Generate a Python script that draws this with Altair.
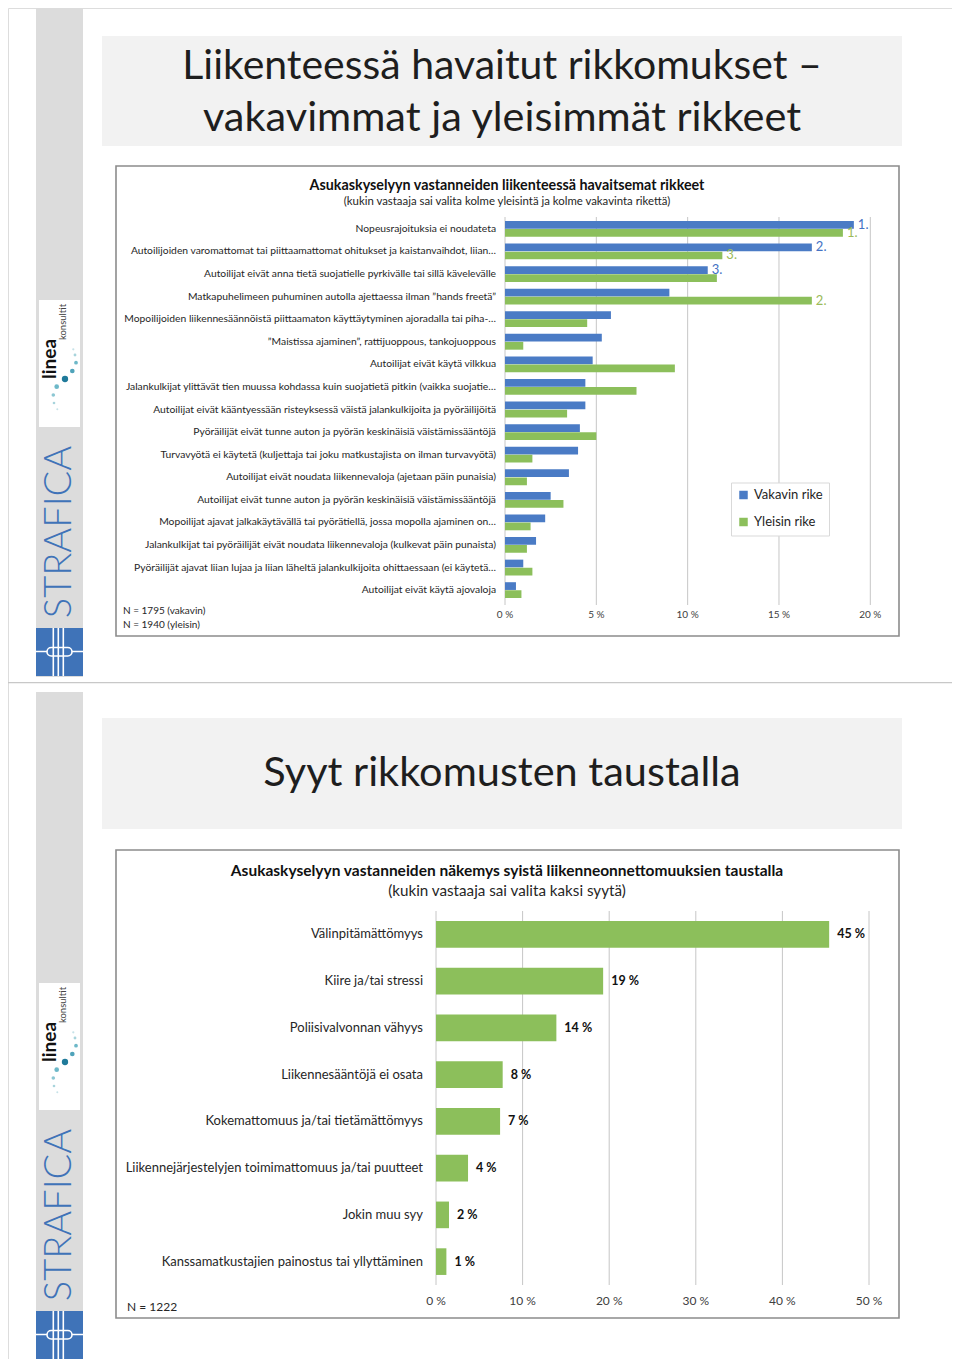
import altair as alt
import pandas as pd

# ------------------------------------------------------------------ data
rikkeet = [
    "Nopeusrajoituksia ei noudateta",
    "Autoilijoiden varomattomat tai piittaamattomat ohitukset ja kaistanvaihdot, liian…",
    "Autoilijat eivät anna tietä suojatielle pyrkivälle tai sillä kävelevälle",
    "Matkapuhelimeen puhuminen autolla ajettaessa ilman ”hands freetä”",
    "Mopoilijoiden liikennesäännöistä piittaamaton käyttäytyminen ajoradalla tai piha-…",
    "”Maistissa ajaminen”, rattijuoppous, tankojuoppous",
    "Autoilijat eivät käytä vilkkua",
    "Jalankulkijat ylittävät tien muussa kohdassa kuin suojatietä pitkin (vaikka suojatie…",
    "Autoilijat eivät kääntyessään risteyksessä väistä jalankulkijoita ja pyöräilijöitä",
    "Pyöräilijät eivät tunne auton ja pyörän keskinäisiä väistämissääntöjä",
    "Turvavyötä ei käytetä (kuljettaja tai joku matkustajista on ilman turvavyötä)",
    "Autoilijat eivät noudata liikennevaloja (ajetaan päin punaisia)",
    "Autoilijat eivät tunne auton ja pyörän keskinäisiä väistämissääntöjä",
    "Mopoilijat ajavat jalkakäytävällä tai pyörätiellä, jossa mopolla ajaminen on…",
    "Jalankulkijat tai pyöräilijät eivät noudata liikennevaloja (kulkevat päin punaista)",
    "Pyöräilijät ajavat liian lujaa ja liian läheltä jalankulkijoita ohittaessaan (ei käytetä…",
    "Autoilijat eivät käytä ajovaloja",
]
vakavin = [19.1, 16.8, 11.1, 9.0, 5.8, 5.3, 4.8, 4.4, 4.4, 4.1, 4.0, 3.5, 2.5, 2.2, 1.7, 1.0, 0.6]
yleisin = [18.5, 11.9, 11.6, 16.8, 4.5, 1.0, 9.3, 7.2, 3.4, 5.0, 1.5, 1.2, 3.2, 1.4, 1.2, 1.5, 0.9]
vakavin_sija = ["1.", "2.", "3.", "", "", "", "", "", "", "", "", "", "", "", "", "", ""]
yleisin_sija = ["1.", "3.", "", "2.", "", "", "", "", "", "", "", "", "", "", "", "", ""]
sarjat = ["Vakavin rike", "Yleisin rike"]
ticks_top = [0, 5, 10, 15, 20]
tick_labels_top = ["0 %", "5 %", "10 %", "15 %", "20 %"]

syyt = [
    "Välinpitämättömyys",
    "Kiire ja/tai stressi",
    "Poliisivalvonnan vähyys",
    "Liikennesääntöjä ei osata",
    "Kokemattomuus ja/tai tietämättömyys",
    "Liikennejärjestelyjen toimimattomuus ja/tai puutteet",
    "Jokin muu syy",
    "Kanssamatkustajien painostus tai yllyttäminen",
]
syyt_osuus = [45.4, 19.3, 13.9, 7.7, 7.4, 3.7, 1.5, 1.2]
syyt_labels = ["45 %", "19 %", "14 %", "8 %", "7 %", "4 %", "2 %", "1 %"]
ticks_bottom = [0, 10, 20, 30, 40, 50]
tick_labels_bottom = ["0 %", "10 %", "20 %", "30 %", "40 %", "50 %"]

# ------------------------------------------------------------------ style
FONT = "Lato"
BLUE = "#4A7BC5"
GREEN = "#8CBF5B"
BLUE_T = "#4472C4"
GREEN_T = "#9BBB59"
SIDE = "#DCDCDC"
STRA = "#3F73B8"
GRID = "#C6C6C6"
TXT = "#262626"

one = alt.Chart(pd.DataFrame({"k": [0]}))


def rect(x1, y1, x2, y2, **kw):
    return one.mark_rect(**kw).encode(
        x=alt.value(x1), x2=alt.value(x2), y=alt.value(y1), y2=alt.value(y2))


def text(t, x, y, **kw):
    kw.setdefault("font", FONT)
    kw.setdefault("baseline", "middle")
    return one.mark_text(text=t, **kw).encode(x=alt.value(x), y=alt.value(y))


def hline(x1, x2, y, **kw):
    return one.mark_rule(**kw).encode(x=alt.value(x1), x2=alt.value(x2), y=alt.value(y))


def vline(x, y1, y2, **kw):
    return one.mark_rule(**kw).encode(x=alt.value(x), y=alt.value(y1), y2=alt.value(y2))


def dot(x, y, size, color):
    return one.mark_circle(size=size, color=color, opacity=1).encode(
        x=alt.value(x), y=alt.value(y))


def sidebar(top, bottom, linea_top, stra_cy, logo_top):
    L = [rect(28, top, 75, bottom, fill=SIDE)]
    # linea logo
    L.append(rect(31, linea_top, 72, linea_top + 127, fill="white"))
    L.append(text("linea", 41.5, linea_top + 59, angle=270, align="center",
                  fontSize=19, fontWeight="bold", color="#111111"))
    L.append(text("konsultit", 54.5, linea_top + 22, angle=270, align="center",
                  fontSize=9.5, color="#444444"))
    for (dx, dy, s, c) in [(57, 79, 40, "#1F7A9A"), (64.3, 71, 22, "#4FA3BA"),
                           (68, 62.7, 14, "#6DB8C8"), (67, 55, 8, "#A8D4DC"),
                           (65.3, 49.3, 5, "#C6E2E8"), (48.7, 86.7, 22, "#6DB8C8"),
                           (45.3, 95, 13, "#8CC7D3"), (46, 103, 7, "#A8D4DC"),
                           (49.3, 109.3, 4, "#C6E2E8")]:
        L.append(dot(dx, linea_top + dy, s, c))
    # STRAFICA wordmark
    L.append(text("STRAFICA", 52, stra_cy, angle=270, align="center",
                  fontSize=38, fontWeight=300, color=STRA))
    # square logo
    L.append(rect(28, logo_top, 75, logo_top + 48, fill=STRA))
    for vx in [45.3, 50.3, 55.3]:
        L.append(vline(vx, logo_top, logo_top + 48, color="white", strokeWidth=1.6))
    L.append(hline(28, 75, logo_top + 23.5, color="white", strokeWidth=1.6))
    L.append(one.mark_rect(fill=STRA, stroke="white", strokeWidth=1.6, cornerRadius=5).encode(
        x=alt.value(39), x2=alt.value(64), y=alt.value(logo_top + 19.5), y2=alt.value(logo_top + 28)))
    for vx in [45.3, 50.3, 55.3]:
        L.append(vline(vx, logo_top + 19.5, logo_top + 28, color="white", strokeWidth=1.6))
    return L


deco = []
deco += sidebar(0, 669, 292, 524, 620)
deco.append(hline(-8, 952, 674.7, color="#C8C8C8", strokeWidth=1.2))
deco += sidebar(684, 1351, 975, 1207, 1303)

# slide 1 headings and frame
deco.append(rect(94, 28, 894, 138, fill="#F2F2F2"))
deco.append(text("Liikenteessä havaitut rikkomukset –", 494, 59, align="center",
                 fontSize=41, color="#1E1E1E"))
deco.append(text("vakavimmat ja yleisimmät rikkeet", 494, 111, align="center",
                 fontSize=41.5, color="#1E1E1E"))
deco.append(rect(108, 158, 891, 628, fill="white", stroke="#8C8C8C", strokeWidth=1.6))
deco.append(text("Asukaskyselyyn vastanneiden liikenteessä havaitsemat rikkeet", 499, 178,
                 align="center", fontSize=14.3, fontWeight="bold", color="#111111"))
deco.append(text("(kukin vastaaja sai valita kolme yleisintä ja kolme vakavinta rikettä)", 499, 194,
                 align="center", fontSize=11.4, color=TXT))
deco.append(text("N = 1795 (vakavin)", 115, 603, align="left", fontSize=10, color=TXT))
deco.append(text("N = 1940 (yleisin)", 115, 617, align="left", fontSize=10, color=TXT))

# slide 2 headings and frame
deco.append(rect(94, 710, 894, 821, fill="#F2F2F2"))
deco.append(text("Syyt rikkomusten taustalla", 494, 766, align="center",
                 fontSize=41.5, color="#1E1E1E"))
deco.append(rect(108, 842, 891, 1310, fill="white", stroke="#8C8C8C", strokeWidth=1.6))
deco.append(text("Asukaskyselyyn vastanneiden näkemys syistä liikenneonnettomuuksien taustalla",
                 499, 863, align="center", fontSize=15.5, fontWeight="bold", color="#111111"))
deco.append(text("(kukin vastaaja sai valita kaksi syytä)", 499, 883, align="center",
                 fontSize=15.2, color=TXT))
deco.append(text("N = 1222", 119, 1299, align="left", fontSize=12, color=TXT))

# ------------------------------------------------------------------ chart 1
df_top = pd.DataFrame({
    "rike": rikkeet * 2,
    "sarja": [sarjat[0]] * len(rikkeet) + [sarjat[1]] * len(rikkeet),
    "arvo": vakavin + yleisin,
    "sija": vakavin_sija + yleisin_sija,
})
df_ticks_top = pd.DataFrame({"t": ticks_top, "lab": tick_labels_top})
df_cats_top = pd.DataFrame({"rike": rikkeet})

xs1 = alt.Scale(domain=[0, 20], range=[497, 862.3])
ys1 = alt.Scale(domain=rikkeet, range=[209.6, 593.4], paddingInner=0.3, paddingOuter=0.15)
yo1 = alt.Scale(domain=sarjat, paddingInner=0.04)

grid1 = alt.Chart(df_ticks_top).mark_rule(color=GRID, strokeWidth=1).encode(
    x=alt.X("t:Q", scale=xs1, axis=None), y=alt.value(209), y2=alt.value(597))
ticklab1 = alt.Chart(df_ticks_top).mark_text(font=FONT, fontSize=10, color="#404040",
                                             baseline="middle").encode(
    x=alt.X("t:Q", scale=xs1, axis=None), y=alt.value(607), text="lab:N")
catlab1 = alt.Chart(df_cats_top).mark_text(font=FONT, fontSize=10.3, color=TXT, align="right",
                                           baseline="middle").encode(
    x=alt.value(488), y=alt.Y("rike:N", scale=ys1, axis=None), text="rike:N")
bars1 = alt.Chart(df_top).mark_bar().encode(
    x=alt.X("arvo:Q", scale=xs1, axis=None),
    y=alt.Y("rike:N", scale=ys1, axis=None),
    yOffset=alt.YOffset("sarja:N", scale=yo1),
    color=alt.Color("sarja:N", scale=alt.Scale(domain=sarjat, range=[BLUE, GREEN]),
                    legend=alt.Legend(title=None, orient="none", legendX=723, legendY=474.5,
                                      fillColor="white", strokeColor="#D9D9D9",
                                      padding=6, rowPadding=13, symbolType="square",
                                      symbolSize=72, symbolStrokeWidth=0, labelFont=FONT,
                                      labelFontSize=13, labelColor="#1E1E1E",
                                      labelOffset=4, cornerRadius=0)),
)
rank_v = alt.Chart(df_top[(df_top.sarja == sarjat[0]) & (df_top.sija != "")]).mark_text(
    font=FONT, fontSize=13, color=BLUE_T, align="left", baseline="middle", dx=4).encode(
    x=alt.X("arvo:Q", scale=xs1, axis=None),
    y=alt.Y("rike:N", scale=ys1, axis=None),
    yOffset=alt.YOffset("sarja:N", scale=yo1),
    text="sija:N")
rank_y = alt.Chart(df_top[(df_top.sarja == sarjat[1]) & (df_top.sija != "")]).mark_text(
    font=FONT, fontSize=13, color=GREEN_T, align="left", baseline="middle", dx=4).encode(
    x=alt.X("arvo:Q", scale=xs1, axis=None),
    y=alt.Y("rike:N", scale=ys1, axis=None),
    yOffset=alt.YOffset("sarja:N", scale=yo1),
    text="sija:N")
chart1 = alt.layer(grid1, ticklab1, catlab1, bars1, rank_v, rank_y)

# ------------------------------------------------------------------ chart 2
df_bot = pd.DataFrame({"syy": syyt, "osuus": syyt_osuus, "lab": syyt_labels})
df_ticks_bot = pd.DataFrame({"t": ticks_bottom, "lab": tick_labels_bottom})
xs2 = alt.Scale(domain=[0, 50], range=[428, 861])
ys2 = alt.Scale(domain=syyt, range=[903, 1277], paddingInner=0.43, paddingOuter=0.215)

grid2 = alt.Chart(df_ticks_bot).mark_rule(color=GRID, strokeWidth=1).encode(
    x=alt.X("t:Q", scale=xs2, axis=None), y=alt.value(903), y2=alt.value(1277))
ticklab2 = alt.Chart(df_ticks_bot).mark_text(font=FONT, fontSize=12, color="#404040",
                                             baseline="middle").encode(
    x=alt.X("t:Q", scale=xs2, axis=None), y=alt.value(1293), text="lab:N")
catlab2 = alt.Chart(df_bot).mark_text(font=FONT, fontSize=13, color=TXT, align="right",
                                      baseline="middle").encode(
    x=alt.value(415), y=alt.Y("syy:N", scale=ys2, axis=None), text="syy:N")
bars2 = alt.Chart(df_bot).mark_bar(color=GREEN).encode(
    x=alt.X("osuus:Q", scale=xs2, axis=None), y=alt.Y("syy:N", scale=ys2, axis=None))
vals2 = alt.Chart(df_bot).mark_text(font=FONT, fontSize=12.5, fontWeight="bold", color="#111111",
                                    align="left", baseline="middle", dx=8).encode(
    x=alt.X("osuus:Q", scale=xs2, axis=None), y=alt.Y("syy:N", scale=ys2, axis=None),
    text="lab:N")
chart2 = alt.layer(grid2, ticklab2, catlab2, bars2, vals2)

chart = alt.layer(*deco, chart1, chart2).resolve_scale(
    x="independent", y="independent", color="independent"
).properties(
    width=944, height=1351, padding=0, autosize=alt.AutoSizeParams(type="none")
).configure_view(stroke=None).configure(background="white")

chart.save("out.html", embed_options={"renderer": "svg", "actions": False})
